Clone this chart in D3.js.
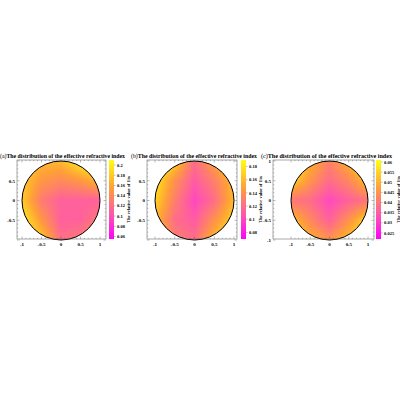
<!DOCTYPE html><html><head><meta charset="utf-8"><script src="https://cdn.jsdelivr.net/npm/d3@7"></script>
<style>body{margin:0;background:#fff}text{font-family:"Liberation Serif",serif;font-weight:bold}</style></head><body>
<script>
const gridPos=[-1,-0.5,0,0.5,1];
const gridA=[[0.19,0.17,0.17,0.20,0.21],[0.18,0.15,0.14,0.15,0.17],[0.18,0.13,0.11,0.11,0.11],[0.20,0.15,0.11,0.11,0.13],[0.21,0.18,0.12,0.13,0.16]];
const gridB=[[0.19,0.17,0.12,0.15,0.18],[0.18,0.14,0.11,0.13,0.16],[0.17,0.13,0.10,0.12,0.16],[0.16,0.12,0.11,0.14,0.17],[0.17,0.13,0.12,0.16,0.19]];
const gridC=[[0.06,0.05,0.042,0.05,0.058],[0.055,0.045,0.038,0.043,0.052],[0.04,0.038,0.032,0.036,0.04],[0.052,0.043,0.036,0.045,0.055],[0.058,0.05,0.045,0.052,0.06]];
const titles=["(a)","(b)","(c)"];
const titleText="The distribution of the effective refractive index";
const cbarLabel="The relative value of 1/n";
const domains=[[0.055,0.21],[0.07,0.19],[0.022,0.061]];
const cbTicks=[[0.06,0.08,0.1,0.12,0.14,0.16,0.18,0.2],[0.08,0.1,0.12,0.14,0.16,0.18],[0.025,0.03,0.035,0.04,0.045,0.05,0.055,0.06]];
const xTicks=[-1,-0.5,0,0.5,1];
const yTicksList=[[-0.5,0,0.5],[-0.5,0,0.5],[-1,-0.5,0,0.5,1]];
const grids=[gridA,gridB,gridC];
const layout=[{bx0:17,bx1:106,xl:22,xr:100,cb:109,tx:0,tw:125},{bx0:147,bx1:237,xl:155,xr:234,cb:241,tx:131,tw:126},{bx0:273,bx1:374,xl:291,xr:368,cb:376,tx:261,tw:131}];
const svg=d3.select("body").append("svg").attr("width",400).attr("height",400);
const col=d3.scaleLinear().domain([0,0.3,0.65,1]).range(["#ff00ff","#ff55b0","#ffa038","#ffff10"]).interpolate(d3.interpolateRgb);
function sample(g,x,y){const fx=(x+1)*2,fy=(1-y)*2;const i=Math.max(0,Math.min(3,Math.floor(fx))),j=Math.max(0,Math.min(3,Math.floor(fy)));const u=fx-i,v=fy-j;
return g[j][i]*(1-u)*(1-v)+g[j][i+1]*u*(1-v)+g[j+1][i]*(1-u)*v+g[j+1][i+1]*u*v;}
const yT=161,yB=240,bT=160,bB=239;
layout.forEach((L,k)=>{
 const x=d3.scaleLinear().domain([-1,1]).range([L.xl,L.xr]);
 const y=d3.scaleLinear().domain([-1,1]).range([yB,yT]);
 const dom=domains[k];const cs=v=>col((v-dom[0])/(dom[1]-dom[0]));
 const W=L.xr-L.xl,H=yB-yT,S=4;
 const cv=document.createElement("canvas");cv.width=W*S;cv.height=H*S;const ctx=cv.getContext("2d");
 for(let px=0;px<W*S;px++)for(let py=0;py<H*S;py++){const xx=x.invert(L.xl+(px+.5)/S),yy=y.invert(yT+(py+.5)/S);
  if(xx*xx+yy*yy<=1){ctx.fillStyle=cs(sample(grids[k],xx,yy));ctx.fillRect(px,py,1,1);}}
 const g=svg.append("g");
 g.append("image").attr("x",L.xl).attr("y",yT).attr("width",W).attr("height",H).attr("href",cv.toDataURL());
 g.append("ellipse").attr("cx",x(0)).attr("cy",y(0)).attr("rx",W/2).attr("ry",H/2).attr("fill","none").attr("stroke","#000").attr("stroke-width",1);
 g.append("rect").attr("x",L.bx0).attr("y",bT).attr("width",L.bx1-L.bx0).attr("height",bB-bT).attr("fill","none").attr("stroke","#555").attr("stroke-width",0.5);
 const ticks=d3.range(-1,1.001,0.1);
 ticks.forEach(t=>{const m=Math.abs(t*2-Math.round(t*2))<1e-6;const len=m?2.5:1.2;
  g.append("line").attr("x1",x(t)).attr("x2",x(t)).attr("y1",bB).attr("y2",bB-len).attr("stroke","#555").attr("stroke-width",0.4);
  g.append("line").attr("x1",x(t)).attr("x2",x(t)).attr("y1",bT).attr("y2",bT+len).attr("stroke","#555").attr("stroke-width",0.4);
  g.append("line").attr("y1",y(t)).attr("y2",y(t)).attr("x1",L.bx0).attr("x2",L.bx0+len).attr("stroke","#555").attr("stroke-width",0.4);
  g.append("line").attr("y1",y(t)).attr("y2",y(t)).attr("x1",L.bx1).attr("x2",L.bx1-len).attr("stroke","#555").attr("stroke-width",0.4);});
 xTicks.forEach(t=>g.append("text").attr("x",x(t)).attr("y",bB+7).attr("text-anchor","middle").attr("font-size",5).text(t));
 yTicksList[k].forEach(t=>g.append("text").attr("x",L.bx0-2).attr("y",y(t)+1.8).attr("text-anchor","end").attr("font-size",5).text(t));
 g.append("text").attr("x",L.tx).attr("y",158).attr("font-size",5.8).attr("textLength",L.tw).attr("lengthAdjust","spacingAndGlyphs").html(`<tspan font-weight="normal">${titles[k]}</tspan>${titleText}`);
 const cy=d3.scaleLinear().domain(dom).range([bB,bT]);
 const cb=document.createElement("canvas");cb.width=1;cb.height=80;const c2=cb.getContext("2d");
 for(let i=0;i<80;i++){c2.fillStyle=cs(cy.invert(bT+(i+.5)*(bB-bT)/80));c2.fillRect(0,i,1,1);}
 g.append("image").attr("x",L.cb).attr("y",bT).attr("width",5).attr("height",bB-bT).attr("preserveAspectRatio","none").attr("href",cb.toDataURL());
 cbTicks[k].forEach(t=>{g.append("line").attr("x1",L.cb+5).attr("x2",L.cb+6.5).attr("y1",cy(t)).attr("y2",cy(t)).attr("stroke","#555").attr("stroke-width",0.4);
  g.append("text").attr("x",L.cb+8).attr("y",cy(t)+1.6).attr("font-size",4.5).text(t);});
 g.append("text").attr("transform",`translate(${L.cb+(k==2?24:21)},${(bT+bB)/2}) rotate(-90)`).attr("text-anchor","middle").attr("font-size",4.5).text(cbarLabel);
});
</script></body></html>
